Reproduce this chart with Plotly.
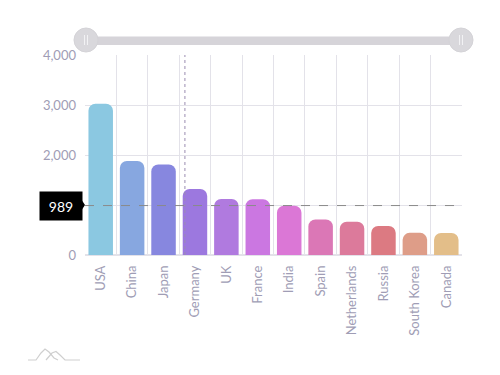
import plotly.graph_objects as go

countries = ["USA", "China", "Japan", "Germany", "UK", "France", "India",
             "Spain", "Netherlands", "Russia", "South Korea", "Canada"]
visits = [3025, 1882, 1809, 1322, 1122, 1114, 984, 711, 665, 580, 443, 441]
bar_colors = ["#8BC8E1", "#87A7E0", "#8787DF", "#9C78DF", "#B07ADF", "#CB77E1",
              "#DB77D6", "#DB77B6", "#DC7A9B", "#DC7A82", "#DE9D88", "#E3BE89"]
cursor_value = 989
y_ticks = [0, 1000, 2000, 3000, 4000]
# the 1,000 label is hidden behind the cursor tooltip in the reference
y_tick_text = ["0", "", "2,000", "3,000", "4,000"]

W, H = 500, 375
OFF = 8  # page body margin
L, R, T, B = 85, 462, 55, 255  # plot area in window pixels
LABEL = "#a09db5"
GRID = "#e3e2e9"


def px(x):
    return (x - L) / (R - L)


def py(y):
    return (B - y) / (B - T)


fig = go.Figure(go.Bar(
    x=countries, y=visits,
    marker=dict(color=bar_colors, line=dict(width=0), cornerradius=7),
    hoverinfo="skip",
))

shapes = []
# right frame line
shapes.append(dict(type="line", xref="paper", yref="paper",
                   x0=px(497.5), x1=px(497.5), y0=py(OFF), y1=py(H),
                   line=dict(color="#e6e6e6", width=1.5)))
# scrollbar track
shapes.append(dict(type="rect", xref="paper", yref="paper",
                   x0=px(90), x1=px(458), y0=py(36.5), y1=py(45),
                   fillcolor="#d6d4d9", line=dict(width=0), layer="above"))
# grips
for cx in (86, 461):
    shapes.append(dict(type="circle", xref="paper", yref="paper",
                       x0=px(cx - 12), x1=px(cx + 12), y0=py(40 - 12), y1=py(40 + 12),
                       fillcolor="#d9d8dc", line=dict(color="#d4d3d7", width=1), layer="above"))
    for dx in (-1.5, 1.5):
        shapes.append(dict(type="line", xref="paper", yref="paper",
                           x0=px(cx + dx), x1=px(cx + dx), y0=py(35), y1=py(45),
                           line=dict(color="#f2f2f4", width=1), layer="above"))
# cursor lines
shapes.append(dict(type="line", xref="x", yref="paper", x0=2.68, x1=2.68, y0=0, y1=1,
                   line=dict(color="#9a8db0", width=1, dash="dot"), layer="above"))
shapes.append(dict(type="line", xref="paper", yref="y", x0=0, x1=1,
                   y0=cursor_value, y1=cursor_value,
                   line=dict(color="#8a8a8a", width=1, dash="dash"), layer="above"))
# tooltip pointer
shapes.append(dict(type="path", xref="paper", yref="paper",
                   path=f"M {px(81)} {py(199)} L {px(85)} {py(205)} L {px(81)} {py(211)} Z",
                   fillcolor="black", line=dict(width=0), layer="above"))
# logo
logo = [(28, 360), (36, 360), (41, 353), (45, 349), (49, 352), (54, 358), (58, 360)]
logo2 = [(46, 360), (52, 353), (56, 351.5), (60, 355), (65, 360), (80, 360)]
for pts in (logo, logo2):
    d = "M " + " L ".join(f"{px(a)} {py(b)}" for a, b in pts)
    shapes.append(dict(type="path", xref="paper", yref="paper", path=d,
                       line=dict(color="#cfcfcf", width=1.2)))

fig.update_layout(
    width=W, height=H,
    margin=dict(l=L - OFF, r=W - (R - OFF), t=T - OFF, b=H - (B - OFF)),
    paper_bgcolor="white", plot_bgcolor="white",
    font=dict(family="Lato", size=13, color=LABEL),
    bargap=0.22,
    showlegend=False,
    shapes=shapes,
    annotations=[dict(xref="paper", yref="y", x=px(61), y=cursor_value,
                      xanchor="center", yanchor="middle",
                      text=str(cursor_value), showarrow=False,
                      bgcolor="black", font=dict(color="white", size=14, family="Lato"),
                      width=38, height=24, borderpad=2)],
    xaxis=dict(type="category", tickson="boundaries", showgrid=True, gridcolor=GRID,
               gridwidth=1, tickangle=-90, ticks="", ticklabelstandoff=7,
               showline=False, zeroline=False, range=[-0.5, 11.5]),
    yaxis=dict(range=[0, 4000], tickvals=y_ticks, ticktext=y_tick_text, showgrid=True,
               gridcolor=GRID, gridwidth=1, zeroline=True, zerolinecolor=GRID,
               ticks="", ticklabelstandoff=8, showline=False),
)

fig.write_html("out.html")
